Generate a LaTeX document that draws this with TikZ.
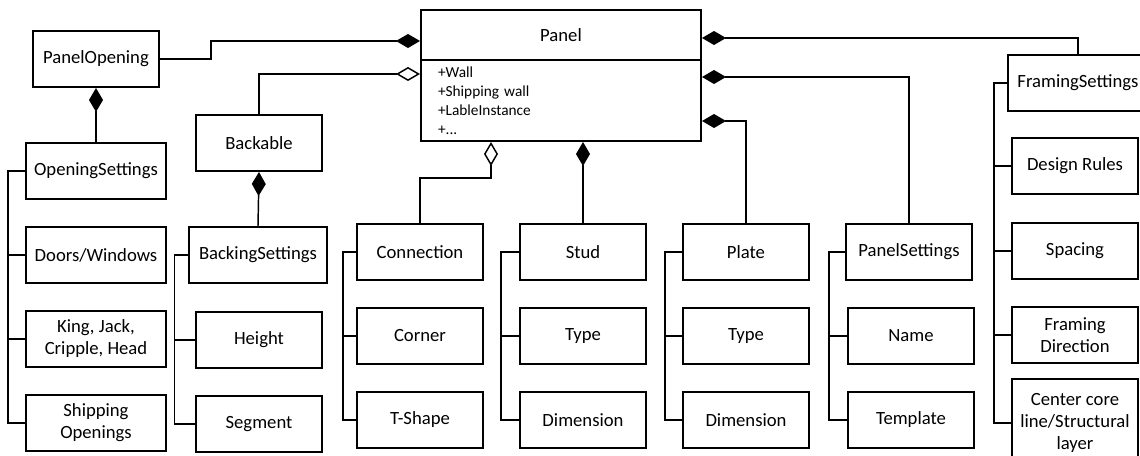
\documentclass[tikz,border=0pt]{standalone}
\usepackage{fontspec}
\setmainfont{Carlito}
\usetikzlibrary{arrows.meta}
\begin{document}
\begin{tikzpicture}[x=0.75pt,y=-0.75pt,
    box/.style={draw,line width=1.5pt,minimum width=94.5pt,minimum height=42pt,align=center,
      font=\fontsize{14}{16.5}\selectfont},
    link/.style={line width=1.1pt},
    comp/.style={link,-{Diamond[length=18pt,width=10.5pt]}},
    aggr/.style={link,-{Diamond[open,length=18pt,width=10.5pt]}}]
        \useasboundingbox (0,0) rectangle (1140,456);
        % the panel class
        \node[box,minimum width=210pt,minimum height=37.5pt] (panel) at (561,35) {Panel};
        \node[box,minimum width=210pt,minimum height=60.75pt,inner xsep=12.75pt,text width=184.5pt,align=left,
          font=\fontsize{11.5}{14.25}\selectfont] (attrs) at (561,100.5)
          {+Wall\\+Shipping wall\\+LableInstance\\+...};
        % openings
        \node[box] (po) at (96,59) {PanelOpening};
        \node[box,minimum width=105pt] (os) at (96,171) {OpeningSettings};
        \node[box,minimum width=105pt] (dw) at (96,255) {Doors/Windows};
        \node[box,minimum width=105pt] (kj) at (96,339) {King, Jack,\\Cripple, Head};
        \node[box,minimum width=105pt] (so) at (96,423) {Shipping\\Openings};
        % backing
        \node[box] (back) at (259,143) {Backable};
        \node[box,minimum width=104pt] (bs) at (258,255) {BackingSettings};
        \node[box] (ht) at (259,340) {Height};
        \node[box] (seg) at (259,424) {Segment};
        % connection, stud, plate
        \node[box] (conn) at (420,252) {Connection};
        \node[box] (corner) at (420,336) {Corner};
        \node[box] (tshape) at (420,420) {T-Shape};
        \node[box] (stud) at (583,252) {Stud};
        \node[box] (stype) at (583,336) {Type};
        \node[box] (sdim) at (583,420) {Dimension};
        \node[box] (plate) at (746,252) {Plate};
        \node[box] (ptype) at (746,336) {Type};
        \node[box] (pdim) at (746,420) {Dimension};
        % panel settings
        \node[box] (ps) at (909,252) {PanelSettings};
        \node[box] (name) at (911,336) {Name};
        \node[box] (tmpl) at (911,420) {Template};
        % framing
        \node[box,minimum width=105pt] (fs) at (1078,83) {FramingSettings};
        \node[box,minimum width=94pt] (dr) at (1075,166) {Design Rules};
        \node[box,minimum width=94pt] (sp) at (1075,251) {Spacing};
        \node[box,minimum width=94pt] (fd) at (1075,335) {Framing\\Direction};
        \node[box,minimum width=94pt,minimum height=66pt] (cc) at (1075,423) {Center core\\line/Structural\\layer};
        % links to the panel
        \draw[comp] (po.east) -- ++(51,0) |- ([yshift=-4.5pt]panel.west);
        \draw[aggr] (back.north) |- ([yshift=-11.25pt]attrs.north west);
        \draw[comp] (fs.north) |- ([yshift=-2.25pt]panel.east);
        \draw[comp] (ps.north) |- ([yshift=-13.5pt]attrs.north east);
        \draw[comp] (plate.north) |- ([yshift=-46.5pt]attrs.north east);
        \draw[aggr] (conn.north) -- ++(0,-45) -| ([xshift=-52.5pt]attrs.south);
        \draw[comp] (stud.north) -- (stud.north |- attrs.south);
        \draw[comp] (os.north) -- (po.south);
        \draw[comp] (bs.north) -- (back.south);
        % settings brackets
        \foreach \c in {dw,kj,so} \draw[link] (os.west) -- ++(-17,0) |- (\c.west);
        \foreach \c in {ht,seg} \draw[link] (bs.west) -- ++(-13,0) |- (\c.west);
        \foreach \c in {corner,tshape} \draw[link] (conn.west) -- ++(-13,0) |- (\c.west);
        \foreach \c in {stype,sdim} \draw[link] (stud.west) -- ++(-18,0) |- (\c.west);
        \foreach \c in {ptype,pdim} \draw[link] (plate.west) -- ++(-17,0) |- (\c.west);
        \foreach \c in {name,tmpl} \draw[link] (ps.west) -- ++(-16,0) |- (\c.west);
        \foreach \c in {dr,sp,fd,cc} \draw[link] (fs.west) -- ++(-13,0) |- (\c.west);
\end{tikzpicture}
\end{document}
